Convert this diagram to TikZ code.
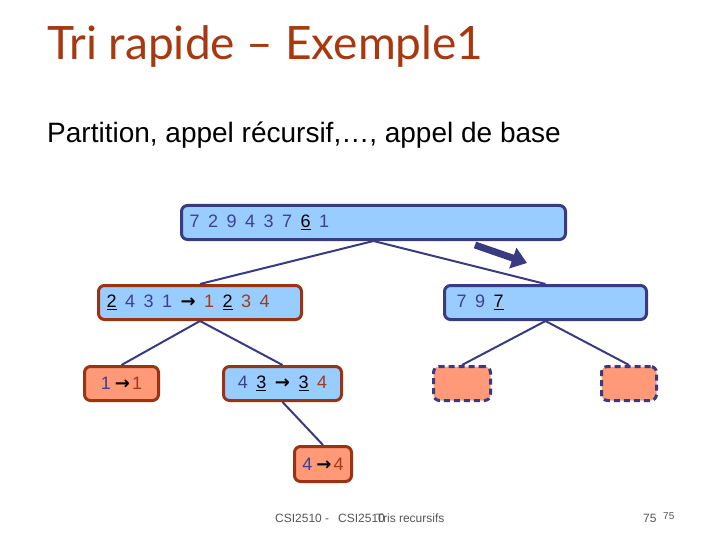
\documentclass[tikz,border=0pt]{standalone}
\usepackage{fontspec}
\setmainfont{Liberation Sans}
\newfontfamily\titlef{Lato}
\newfontfamily\symf{DejaVu Sans}
\usetikzlibrary{arrows.meta}
\definecolor{navy}{HTML}{3A3A80}
\definecolor{navytext}{HTML}{40408F}
\definecolor{rust}{HTML}{A33A1A}
\definecolor{bluefill}{HTML}{99CCFF}
\definecolor{salmon}{HTML}{FF9977}
\definecolor{darkred}{HTML}{993311}
\definecolor{titlered}{HTML}{A8380F}
\definecolor{footgray}{HTML}{555555}
\newcommand{\nv}[1]{\textcolor{navytext}{#1}}
\newcommand{\rd}[1]{\textcolor{rust}{#1}}
\newcommand{\undl}[1]{\textcolor{black}{\underline{#1}}}
\newcommand{\dgap}{\hspace{8.5pt}}
\newcommand{\arw}{\textcolor{black}{{\symf\bfseries →}}}
\begin{document}
\begin{tikzpicture}[x=1pt,y=-1pt,
  box/.style={rounded corners=6pt, line width=3pt, minimum height=34pt, inner sep=0pt,
    anchor=north west, font=\fontsize{18}{18}\selectfont},
  bluebox/.style={box, fill=bluefill},
  leafbox/.style={box, fill=salmon, draw=darkred},
  emptybox/.style={box, fill=salmon, draw=navy, dashed, dash pattern=on 6pt off 4pt},
  conn/.style={draw=navy, line width=2pt},
  foot/.style={anchor=base west, inner sep=0pt, text=footgray, font=\fontsize{12}{12}\selectfont}]
\useasboundingbox (0,0) rectangle (720,540);
\node[anchor=base west, inner sep=0pt, text=titlered, font=\titlef\fontsize{46}{46}\selectfont] (title) at (47,60) {Tri rapide – Exemple1};
\node[anchor=base west, inner sep=0pt, font=\fontsize{28}{28}\selectfont] (sub) at (47,143) {Partition, appel récursif,…, appel de base};
% level 0
\node[bluebox, draw=navy, minimum width=384pt, text width=368pt, align=left] (root) at (180,204)
  {\nv{7\dgap2\dgap9\dgap4\dgap3\dgap7}\dgap\undl{6}\dgap\nv{1}};
% level 1
\node[bluebox, draw=darkred, minimum width=203pt, text width=187pt, align=left] (c1) at (97,284)
  {\undl{2}\dgap\nv{4\dgap3\dgap1}\dgap\arw\dgap\rd{1}\dgap\undl{2}\dgap\rd{3\dgap4}};
\node[bluebox, draw=navy, minimum width=202pt, text width=178pt, align=left] (c2) at (443,284)
  {\nv{7\dgap9}\dgap\undl{7}};
% level 2
\node[leafbox, minimum width=74pt] (c11) at (83,365) {\nv{1}\hspace{4pt}\arw\hspace{2pt}\rd{1}};
\node[bluebox, draw=darkred, minimum width=118pt] (c12) at (222,365)
  {\nv{4}\dgap\undl{3}\dgap\arw\dgap\undl{3}\dgap\rd{4}};
\node[emptybox, minimum width=57pt] (c21) at (432,365) {};
\node[emptybox, minimum width=55pt] (c22) at (600,365) {};
% level 3
\node[leafbox, minimum width=57pt, minimum height=35pt] (c121) at (293,445) {\nv{4}\hspace{4pt}\arw\hspace{2pt}\rd{4}};
% connectors
\draw[conn] (root.south) -- (c1.north);
\draw[conn] (root.south) -- (c2.north);
\draw[conn] (c1.south) -- (c11.north);
\draw[conn] (c1.south) -- (c12.north);
\draw[conn] (c2.south) -- (c21.north);
\draw[conn] (c2.south) -- (c22.north);
\draw[conn] (c12.south) -- (c121.north);
% fat arrow
\coordinate (a1) at (475,245);
\coordinate (a2) at (527,263);
\draw[navy, line width=7pt, -{Triangle[length=15pt,width=21pt]}] (a1) -- (a2);
% footer
\node[foot] (f1) at (275,522) {CSI2510 - };
\node[foot] (f2) at (376,522) {Tris recursifs};
\node[foot] (f3) at (338,522) {CSI2510};
\node[foot] (p1) at (643,522) {75};
\node[foot, font=\fontsize{10}{10}\selectfont] (p2) at (663,519) {75};
\end{tikzpicture}
\end{document}
